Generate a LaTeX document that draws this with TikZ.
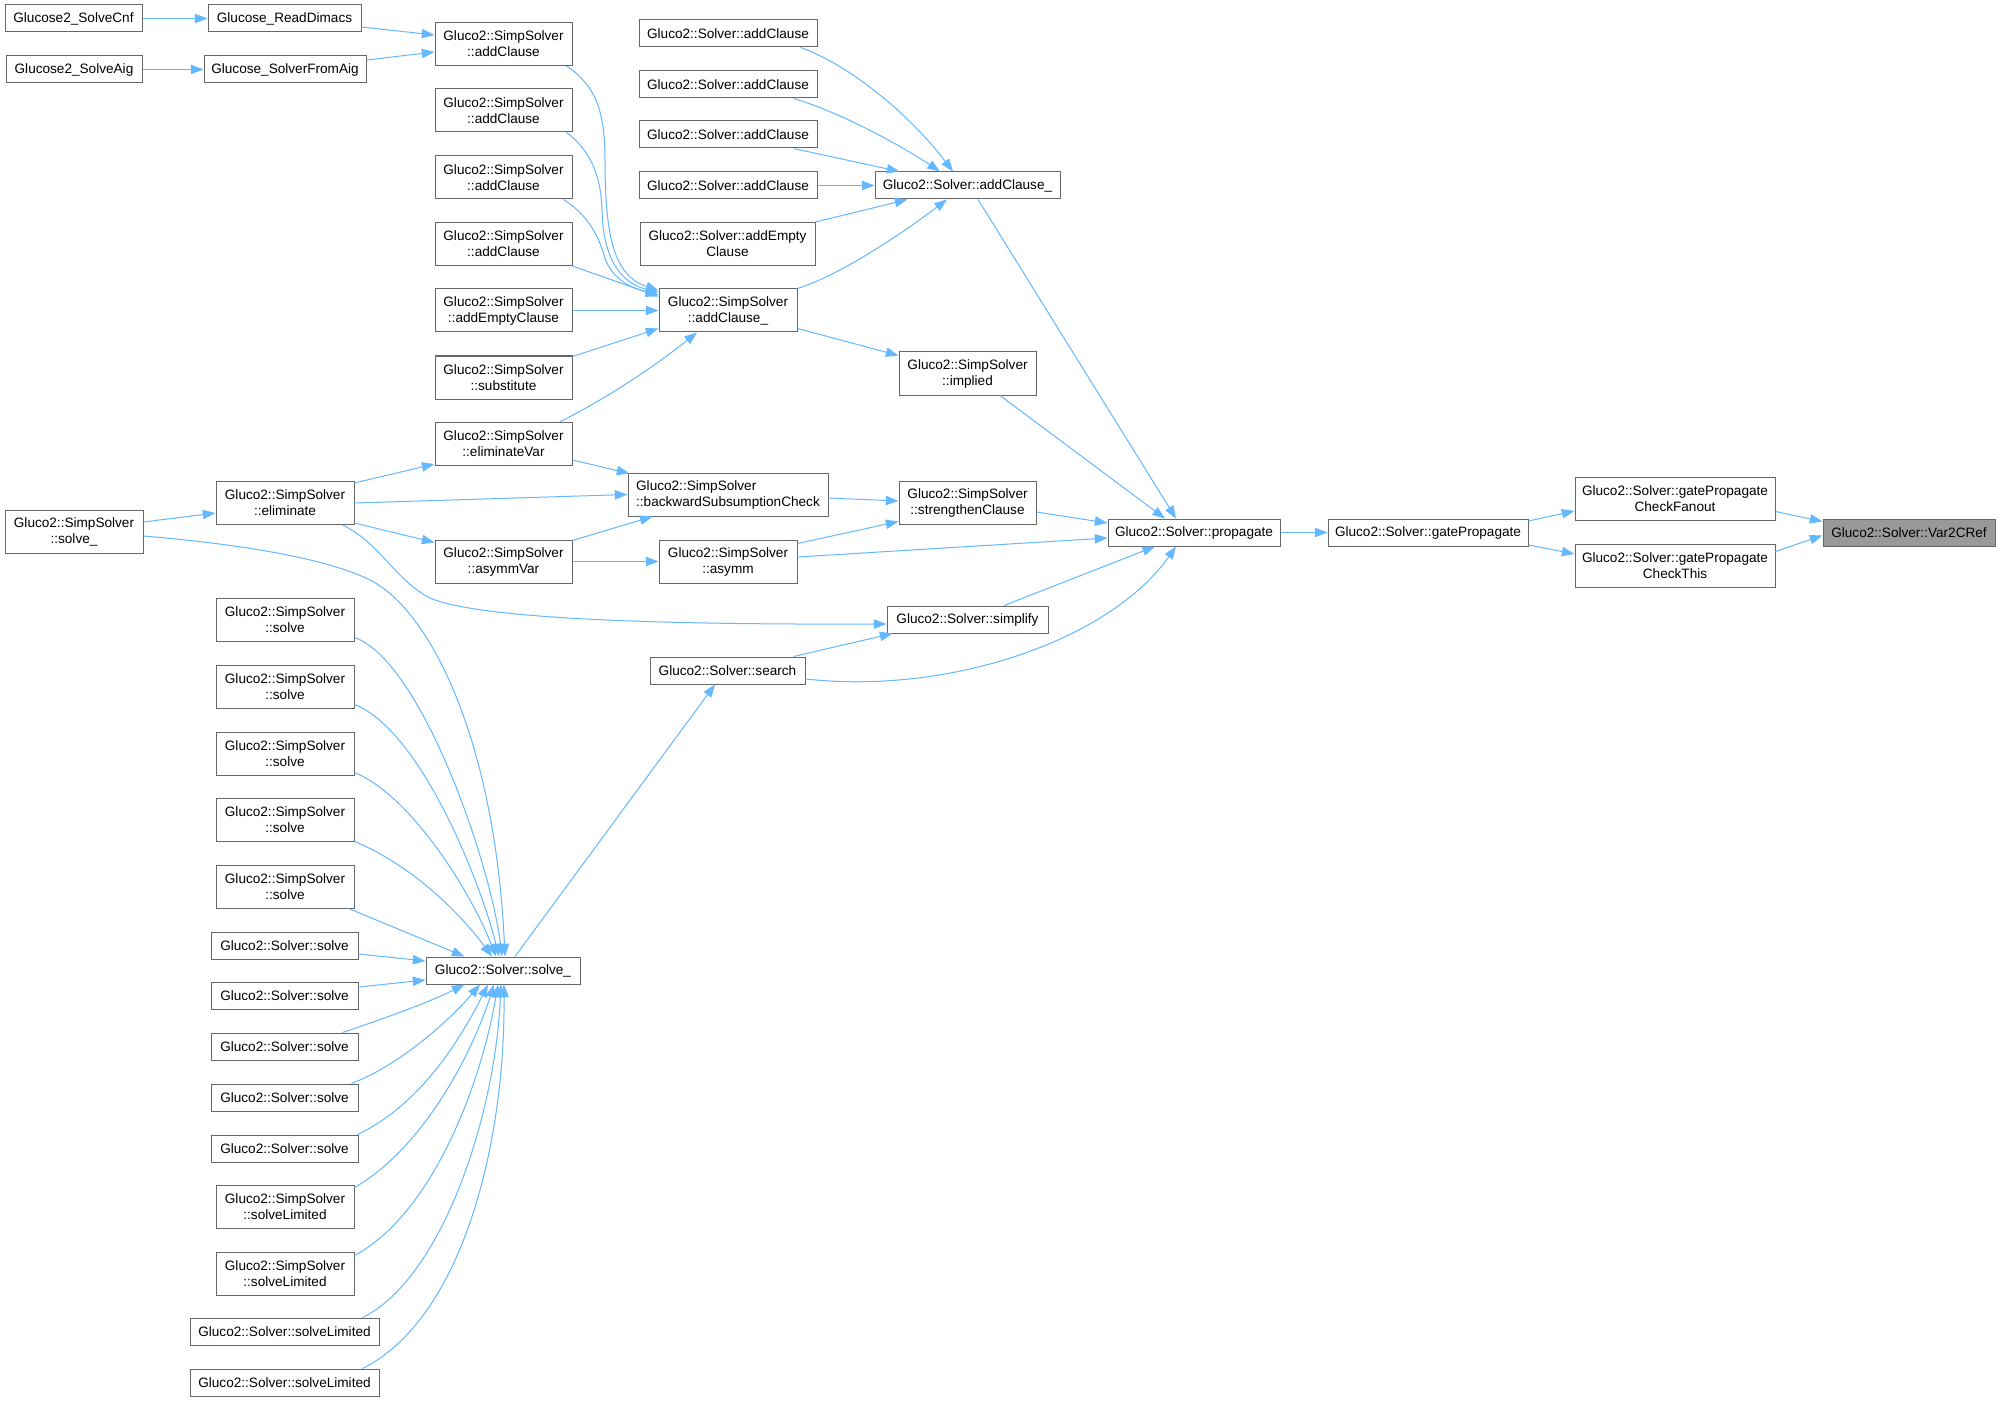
\documentclass[tikz,border=0pt]{standalone}
\usepackage{fontspec}
\setmainfont{Liberation Sans}
\usetikzlibrary{arrows.meta,calc}
\definecolor{edgeblue}{HTML}{63B8FF}
\definecolor{boxgray}{HTML}{666666}
\definecolor{hlfill}{HTML}{999999}
\begin{document}
\begin{tikzpicture}[x=0.75pt,y=-0.75pt,
  box/.style={draw=boxgray, line width=0.75pt, fill=white, inner sep=0pt, align=center, font=\fontsize{10.2}{12}\selectfont, text=black},
  bw/.style={minimum width=#1*0.75pt},
  bh/.style={minimum height=#1*0.75pt},
  one/.style={box,bh=27},
  two/.style={box,bh=43},
  edge/.style={draw=edgeblue, line width=0.75pt, -{Triangle[length=9.5pt,width=7pt]}}
  ]
\fill[white] (0,0) rectangle (2001,1401);
\useasboundingbox (0,0) rectangle (2001,1401);

% nodes
\node[one,bw=137] (cnf) at (73.5,18.5) {Glucose2\_SolveCnf};
\node[one,bw=153] (dimacs) at (284.5,18.5) {Glucose\_ReadDimacs};
\node[one,bw=136] (aig) at (74,69.5) {Glucose2\_SolveAig};
\node[one,bw=162] (fromaig) at (285,69.5) {Glucose\_SolverFromAig};

\node[two,bw=137] (sac1) at (503.5,44) {Gluco2::SimpSolver\\::addClause};
\node[two,bw=137] (sac2) at (503.5,110.5) {Gluco2::SimpSolver\\::addClause};
\node[two,bw=137] (sac3) at (503.5,177.5) {Gluco2::SimpSolver\\::addClause};
\node[two,bw=137] (sac4) at (503.5,244) {Gluco2::SimpSolver\\::addClause};
\node[two,bw=137] (saec) at (503.5,310.5) {Gluco2::SimpSolver\\::addEmptyClause};
\node[two,bw=137] (subst) at (503.5,377.5) {Gluco2::SimpSolver\\::substitute};
\node[two,bw=137] (elimvar) at (503.5,444) {Gluco2::SimpSolver\\::eliminateVar};
\node[two,bw=137] (asymmvar) at (503.5,561.5) {Gluco2::SimpSolver\\::asymmVar};

\node[two,bw=138] (elim) at (285,503) {Gluco2::SimpSolver\\::eliminate};
\node[two,bw=138] (ssolveu) at (74,531.5) {Gluco2::SimpSolver\\::solve\_};

\node[two,bw=200,align=left] (bsc) at (728,494.5) {Gluco2::SimpSolver\\::backwardSubsumptionCheck};
\node[two,bw=138] (sacu) at (728,310.5) {Gluco2::SimpSolver\\::addClause\_};
\node[one,bw=178] (ac1) at (728,33.5) {Gluco2::Solver::addClause};
\node[one,bw=178] (ac2) at (728,84.5) {Gluco2::Solver::addClause};
\node[one,bw=178] (ac3) at (728,134.5) {Gluco2::Solver::addClause};
\node[one,bw=178] (ac4) at (728,185.5) {Gluco2::Solver::addClause};
\node[two,bw=175] (aec) at (727.5,244) {Gluco2::Solver::addEmpty\\Clause};
\node[two,bw=138] (asymm) at (728,561.5) {Gluco2::SimpSolver\\::asymm};
\node[one,bw=155] (search) at (727.5,670.5) {Gluco2::Solver::search};

\node[one,bw=185] (acu) at (967.5,185.5) {Gluco2::Solver::addClause\_};
\node[two,bw=137] (implied) at (967.5,373.5) {Gluco2::SimpSolver\\::implied};
\node[two,bw=137] (strengthen) at (967.5,502.5) {Gluco2::SimpSolver\\::strengthenClause};
\node[one,bw=161] (simplify) at (967.5,619.5) {Gluco2::Solver::simplify};

\node[one,bw=172] (propagate) at (1194,532.5) {Gluco2::Solver::propagate};
\node[one,bw=200] (gate) at (1428,532.5) {Gluco2::Solver::gatePropagate};
\node[two,bw=200] (fanout) at (1675,498.5) {Gluco2::Solver::gatePropagate\\CheckFanout};
\node[two,bw=200] (checkthis) at (1675,565.5) {Gluco2::Solver::gatePropagate\\CheckThis};
\node[one,bw=172,fill=hlfill] (var2) at (1909,532.5) {Gluco2::Solver::Var2CRef};

\node[one,bw=154] (solveu) at (503,970.5) {Gluco2::Solver::solve\_};
\node[two,bw=138] (sss1) at (285,619.5) {Gluco2::SimpSolver\\::solve};
\node[two,bw=138] (sss2) at (285,686.5) {Gluco2::SimpSolver\\::solve};
\node[two,bw=138] (sss3) at (285,753.5) {Gluco2::SimpSolver\\::solve};
\node[two,bw=138] (sss4) at (285,819.5) {Gluco2::SimpSolver\\::solve};
\node[two,bw=138] (sss5) at (285,886.5) {Gluco2::SimpSolver\\::solve};
\node[one,bw=147] (ss1) at (284.5,945.5) {Gluco2::Solver::solve};
\node[one,bw=147] (ss2) at (284.5,995.5) {Gluco2::Solver::solve};
\node[one,bw=147] (ss3) at (284.5,1046.5) {Gluco2::Solver::solve};
\node[one,bw=147] (ss4) at (284.5,1097.5) {Gluco2::Solver::solve};
\node[one,bw=147] (ss5) at (284.5,1148.5) {Gluco2::Solver::solve};
\node[two,bw=138] (ssl1) at (285,1206.5) {Gluco2::SimpSolver\\::solveLimited};
\node[two,bw=138] (ssl2) at (285,1273.5) {Gluco2::SimpSolver\\::solveLimited};
\node[one,bw=189] (sl1) at (284.5,1331.5) {Gluco2::Solver::solveLimited};
\node[one,bw=189] (sl2) at (284.5,1382.5) {Gluco2::Solver::solveLimited};

% edges
\draw[edge] (cnf.east) -- (dimacs.west);
\draw[edge] (aig.east) -- (fromaig.west);
\draw[edge] ([shift={(0,8.5)}]dimacs.east) -- ([shift={(0,-9)}]sac1.west);
\draw[edge] ([shift={(0,-9.5)}]fromaig.east) -- ([shift={(0,8)}]sac1.west);

\draw[edge] ([shift={(-6,0)}]sac1.south east) .. controls (595,85) and (605,110) .. (605,160) .. controls (605,240) and (615,276) .. ([shift={(0,2)}]sacu.north west);
\draw[edge] ([shift={(-6,0)}]sac2.south east) .. controls (590,150) and (601,175) .. (602,210) .. controls (603,255) and (618,282) .. ([shift={(0,4)}]sacu.north west);
\draw[edge] ([shift={(-9,0)}]sac3.south east) .. controls (585,213) and (597,232) .. (603,252) .. controls (608,272) and (622,286) .. ([shift={(0,6)}]sacu.north west);
\draw[edge] (sac4.south east) -- ([shift={(0,8)}]sacu.north west);
\draw[edge] (saec.east) -- (sacu.west);
\draw[edge] ([shift={(0,1)}]subst.north east) -- ([shift={(0,-4)}]sacu.south west);
\draw[edge] ([shift={(-13,0)}]elimvar.north east) .. controls (600,402) and (650,370) .. ([shift={(-31,0)}]sacu.south);

\draw[edge] ([shift={(-17,0)}]ac1.south east) .. controls (850,65) and (910,115) .. ([shift={(-14.5,0)}]acu.north);
\draw[edge] ([shift={(-24,0)}]ac2.south east) .. controls (840,112) and (900,145) .. ([shift={(-27.5,0)}]acu.north);
\draw[edge] ([shift={(-24,0)}]ac3.south east) -- ([shift={(25,0)}]acu.north west);
\draw[edge] (ac4.east) -- (acu.west);
\draw[edge] (aec.north east) -- ([shift={(33,0)}]acu.south west);
\draw[edge] (sacu.north east) .. controls (840,275) and (900,235) .. ([shift={(-20.5,0)}]acu.south);
\draw[edge] ([shift={(0,-4)}]sacu.south east) -- ([shift={(0,4)}]implied.north west);

\draw[edge] ([shift={(10.5,0)}]acu.south) -- ([shift={(-18,0)}]propagate.north);
\draw[edge] ([shift={(32.5,0)}]implied.south) -- ([shift={(-29,0)}]propagate.north);
\draw[edge] ([shift={(0,3.5)}]bsc.east) -- ([shift={(0,-1.5)}]strengthen.west);
\draw[edge] ([shift={(0,4)}]asymm.north east) -- ([shift={(0,-3)}]strengthen.south west);
\draw[edge] ([shift={(0,9.5)}]strengthen.east) -- ([shift={(0,-9.5)}]propagate.west);
\draw[edge] ([shift={(0,-4.5)}]asymm.east) -- ([shift={(0,5.5)}]propagate.west);
\draw[edge] ([shift={(36.5,0)}]simplify.north) -- ([shift={(-39,0)}]propagate.south);
\draw[edge] ([shift={(-12,0)}]search.north east) -- ([shift={(6,0)}]simplify.south west);
\draw[edge] ([shift={(0,8.5)}]search.east) .. controls (950,695) and (1110,640) .. ([shift={(-18,0)}]propagate.south);

\draw[edge] (propagate.east) -- (gate.west);
\draw[edge] ([shift={(0,-11.5)}]gate.east) -- ([shift={(0,12.5)}]fanout.west);
\draw[edge] ([shift={(0,12.5)}]gate.east) -- ([shift={(0,-11.5)}]checkthis.west);
\draw[edge] ([shift={(0,13)}]fanout.east) -- ([shift={(0,-11)}]var2.west);
\draw[edge] ([shift={(0,-14)}]checkthis.east) -- ([shift={(0,3)}]var2.west);

\draw[edge] ([shift={(0,2)}]elim.north east) -- ([shift={(0,-2)}]elimvar.south west);
\draw[edge] (elim.east) -- (bsc.west);
\draw[edge] ([shift={(0,-2)}]elim.south east) -- ([shift={(0,3)}]asymmvar.north west);
\draw[edge] ([shift={(-12,0)}]elim.south east) .. controls (380,543) and (395,580) .. (430,598) .. controls (470,615) and (600,625) .. ([shift={(0,4.5)}]simplify.west);
\draw[edge] ([shift={(0,-6)}]elimvar.south east) -- ([shift={(2,1)}]bsc.north west);
\draw[edge] ([shift={(0,1)}]asymmvar.north east) -- ([shift={(25,0)}]bsc.south west);
\draw[edge] (asymmvar.east) -- (asymm.west);

\draw[edge] ([shift={(0,-9.5)}]ssolveu.east) -- ([shift={(0,10)}]elim.west);
\draw[edge] ([shift={(0,4.5)}]ssolveu.east) .. controls (250,545) and (330,560) .. (370,580) .. controls (430,610) and (495,740) .. ([shift={(2,0)}]solveu.north);

\draw[edge] ([shift={(0,-4)}]sss1.south east) .. controls (420,660) and (490,860) .. ([shift={(-1,0)}]solveu.north);
\draw[edge] ([shift={(0,-4)}]sss2.south east) .. controls (420,730) and (480,880) .. ([shift={(-4,0)}]solveu.north);
\draw[edge] ([shift={(0,-3)}]sss3.south east) .. controls (410,795) and (470,890) .. ([shift={(-7,0)}]solveu.north);
\draw[edge] (sss4.south east) .. controls (400,860) and (450,900) .. ([shift={(-11,0)}]solveu.north);
\draw[edge] ([shift={(-6,0)}]sss5.south east) -- ([shift={(39,0)}]solveu.north west);
\draw[edge] ([shift={(0,8.5)}]ss1.east) -- ([shift={(0,-9.5)}]solveu.west);
\draw[edge] ([shift={(0,-8.5)}]ss2.east) -- ([shift={(0,9.5)}]solveu.west);
\draw[edge] ([shift={(-16,0)}]ss3.north east) .. controls (380,1020) and (430,1002) .. ([shift={(39,0)}]solveu.south west);
\draw[edge] ([shift={(-7,0)}]ss4.north east) .. controls (400,1065) and (450,1020) .. ([shift={(-23,0)}]solveu.south);
\draw[edge] ([shift={(-1,0)}]ss5.north east) .. controls (420,1105) and (460,1040) .. ([shift={(-15,0)}]solveu.south);
\draw[edge] ([shift={(0,3)}]ssl1.north east) .. controls (420,1150) and (470,1060) .. ([shift={(-9,0)}]solveu.south);
\draw[edge] ([shift={(0,4)}]ssl2.north east) .. controls (430,1215) and (480,1090) .. ([shift={(-5,0)}]solveu.south);
\draw[edge] ([shift={(-17,0)}]sl1.north east) .. controls (440,1280) and (495,1120) .. ([shift={(-2,0)}]solveu.south);
\draw[edge] ([shift={(-17,0)}]sl2.north east) .. controls (460,1320) and (505,1150) .. ([shift={(1,0)}]solveu.south);

\draw[edge] ([shift={(12,0)}]solveu.north) -- ([shift={(-12.5,0)}]search.south);
\end{tikzpicture}
\end{document}
